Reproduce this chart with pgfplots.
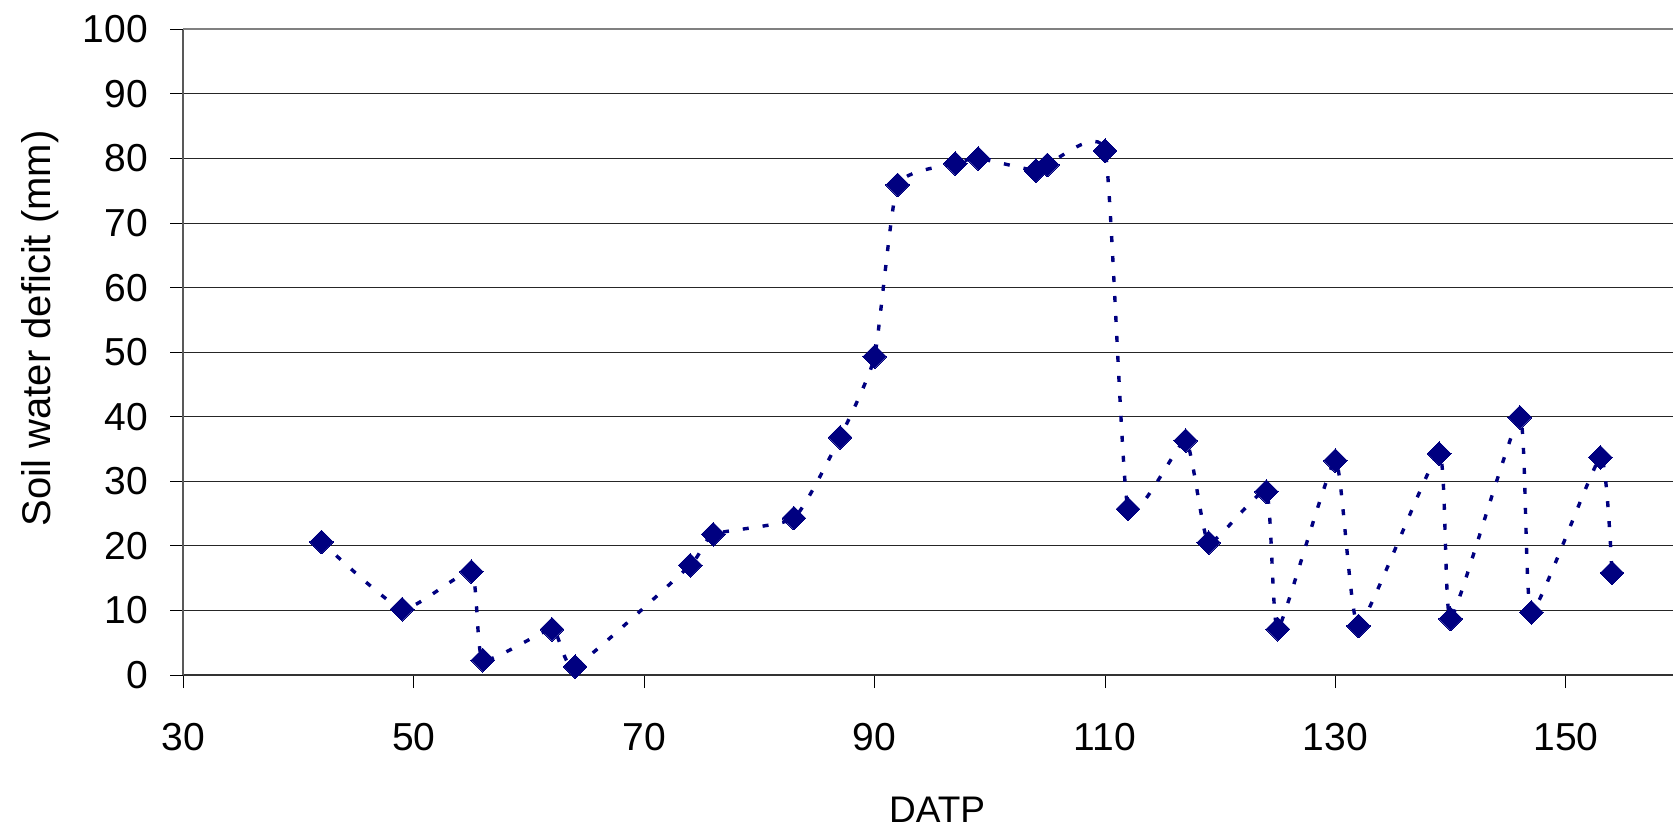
\documentclass[border=0pt]{standalone}
\usepackage{fontspec}
\setmainfont{Liberation Sans}
\usepackage{pgfplots}
\pgfplotsset{compat=1.18}
\definecolor{navy}{RGB}{0,0,128}
\begin{document}
\begin{tikzpicture}
\begin{axis}[
  scale only axis,
  width=744.85pt, height=322.85pt,
  xmin=30, xmax=159.3, ymin=0, ymax=100,
  axis x line*=bottom, axis y line*=left,
  x axis line style={-, black!80, line width=1.2pt},
  y axis line style={-, black!65, line width=1pt},
  xtick={30,50,...,150}, ytick={0,10,...,90},
  extra y ticks={100},
  extra y tick style={grid style={black!50, line width=1pt}},
  ymajorgrids, grid style={black!85, line width=0.5pt},
  tick align=outside, major tick length=6.5pt,
  tick style={black, line width=0.5pt},
  /pgf/number format/assume math mode=true,
  tick label style={font=\fontsize{19.5}{23}\selectfont},
  yticklabel style={anchor=east, inner sep=0pt},
  xticklabel style={anchor=north, inner sep=0pt},
  yticklabel shift=11pt,
  xticklabel shift=17.5pt,
  xlabel={DATP},
  xlabel style={at={(axis description cs:0.506,-0.189)}, anchor=north, inner sep=0pt, font=\fontsize{18.5}{22}\selectfont},
  ylabel={Soil water deficit (mm)},
  ylabel style={at={(axis description cs:-0.0962,0.537)}, anchor=center, inner sep=0pt, font=\fontsize{20}{24}\selectfont},
  clip=false,
]
\addplot[navy, line width=1.7pt, dash pattern=on 3pt off 7pt, smooth, tension=0.28,
  mark=square*, mark size=4.2pt,
  mark options={rotate=45, solid, fill=navy, draw=navy, line width=0pt}]
coordinates {
(42,20.6) (49,10.2) (55,16.0) (56,2.3) (62,7.1) (64,1.3) (74,17.0) (76,21.8)
(83,24.3) (87,36.8) (90,49.3) (92,75.9) (97,79.2) (99,80.0) (104,78.1) (105,79.0)
(110,81.2) (112,25.7) (117,36.3) (119,20.5) (124,28.4) (125,7.1) (130,33.2) (132,7.6)
(139,34.3) (140,8.7) (146,39.9) (147,9.7) (153,33.7) (154,15.8)
};
\end{axis}
\pgfresetboundingbox
\path[use as bounding box] ([shift={(-91.65pt,-77.5pt)}]current axis.south west) rectangle ([shift={(0pt,14.65pt)}]current axis.north east);
\end{tikzpicture}
\end{document}
